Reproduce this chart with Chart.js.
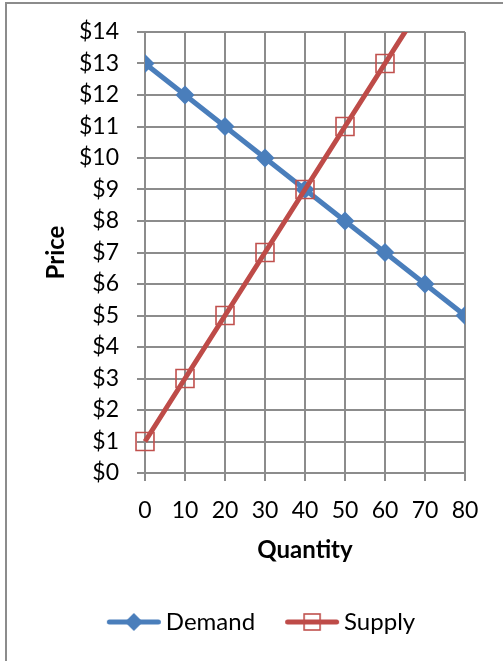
<!DOCTYPE html>
<html lang="en">
<head>
  <meta charset="UTF-8" />
  <title>Supply and Demand</title>
  <script src="https://cdn.jsdelivr.net/npm/chart.js"></script>
  <style>
    body { margin: 0; background: #fff; font-family: Lato, sans-serif; overflow: hidden; }
    .frame { position: absolute; left: 5px; top: 2px; width: 700px; height: 800px; border: 2px solid #8c8c8c; }
    #wrap { position: absolute; left: 0; top: 0; width: 503px; height: 661px; }
  </style>
</head>
<body>
  <div class="frame"></div>
  <div id="wrap"><canvas id="chart" width="503" height="661"></canvas></div>

  <script>
    // data
    const quantities = [0, 10, 20, 30, 40, 50, 60, 70, 80];
    const demandPrices = [13, 12, 11, 10, 9, 8, 7, 6, 5];
    const supplyQuantities = [0, 10, 20, 30, 40, 50, 60, 70];
    const supplyPrices = [1, 3, 5, 7, 9, 11, 13, 15];

    const BLUE = '#4A7EBB';
    const RED = '#BE4B48';
    const GRID = '#8c8c8c';
    const FONT = 'Lato';

    function toPoints(xs, ys) {
      return xs.map((x, i) => ({ x, y: ys[i] }));
    }

    // legend sample: line with marker in the middle
    function legendSample(color, marker) {
      const c = document.createElement('canvas');
      c.width = 58; c.height = 22;
      const g = c.getContext('2d');
      g.strokeStyle = color;
      g.lineWidth = 5;
      g.lineCap = 'round';
      g.beginPath(); g.moveTo(4.5, 11); g.lineTo(53.5, 11); g.stroke();
      if (marker === 'diamond') {
        g.fillStyle = color;
        g.beginPath();
        g.moveTo(29, 2); g.lineTo(38, 11); g.lineTo(29, 20); g.lineTo(20, 11);
        g.closePath(); g.fill();
      } else {
        g.fillStyle = '#fff';
        g.fillRect(21, 3, 16, 16);
        g.strokeStyle = '#C0504D';
        g.lineWidth = 1.6;
        g.strokeRect(21, 3, 16, 16);
        g.strokeStyle = color;
        g.lineWidth = 5;
        g.lineCap = 'butt';
        g.beginPath(); g.moveTo(21, 11); g.lineTo(37, 11); g.stroke();
      }
      return c;
    }
    const samples = [legendSample(BLUE, 'diamond'), legendSample(RED, 'square')];

    const ctx = document.getElementById('chart').getContext('2d');
    new Chart(ctx, {
      type: 'line',
      data: {
        datasets: [
          {
            label: 'Demand',
            data: toPoints(quantities, demandPrices),
            borderColor: BLUE,
            backgroundColor: BLUE,
            borderWidth: 5,
            pointStyle: 'rectRot',
            pointRadius: 9.5,
            pointBorderWidth: 0,
            pointBackgroundColor: BLUE,
            tension: 0,
            order: 1
          },
          {
            label: 'Supply',
            data: toPoints(supplyQuantities, supplyPrices),
            borderColor: RED,
            backgroundColor: 'rgba(0,0,0,0)',
            borderWidth: 5,
            pointStyle: 'rect',
            pointRadius: 12.7,
            pointBorderWidth: 1.6,
            pointBorderColor: '#C0504D',
            pointBackgroundColor: 'rgba(0,0,0,0)',
            tension: 0,
            clip: { left: 16, right: 16, top: 0, bottom: 16 },
            order: 0
          }
        ]
      },
      options: {
        responsive: false,
        animation: false,
        events: [],
        layout: { padding: { left: 26, right: 0, top: 32, bottom: 17 } },
        scales: {
          x: {
            type: 'linear',
            min: 0, max: 80,
            afterFit: s => { s.height = 100; },
            ticks: { stepSize: 10, color: '#000', padding: 16, font: { family: FONT, size: 23 } },
            grid: { color: GRID, lineWidth: 2, tickLength: 8 },
            border: { color: GRID, width: 2 },
            title: { display: true, text: 'Quantity', color: '#000', padding: { top: 4, bottom: 8.6 },
                     font: { family: FONT, size: 24, weight: 'bold' } }
          },
          y: {
            min: 0, max: 14,
            afterFit: s => { s.width = 119; },
            ticks: { stepSize: 1, color: '#000', padding: 18, font: { family: FONT, size: 23 },
                     callback: v => '$' + v },
            grid: { color: GRID, lineWidth: 2, tickLength: 8 },
            border: { color: GRID, width: 2 },
            title: { display: true, text: 'Price', color: '#000', padding: { top: 15.6, bottom: 4 },
                     font: { family: FONT, size: 24, weight: 'bold' } }
          },
          // empty right-hand space, keeps the plot area where the reference has it
          yRight: {
            position: 'right',
            min: 0, max: 14,
            afterFit: s => { s.width = 38; },
            ticks: { display: false },
            grid: { display: false, drawOnChartArea: false },
            border: { display: false }
          }
        },
        plugins: {
          tooltip: { enabled: false },
          legend: {
            position: 'bottom',
            labels: {
              usePointStyle: true,
              pointStyleWidth: 40,
              padding: 37,
              color: '#000',
              font: { family: FONT, size: 24 },
              generateLabels: chart => chart.data.datasets.map((d, i) => ({
                text: d.label,
                pointStyle: samples[i],
                fillStyle: d.borderColor,
                strokeStyle: d.borderColor,
                lineWidth: 0,
                hidden: false,
                datasetIndex: i,
                fontColor: '#000'
              }))
            }
          }
        }
      }
    });
  </script>
</body>
</html>
